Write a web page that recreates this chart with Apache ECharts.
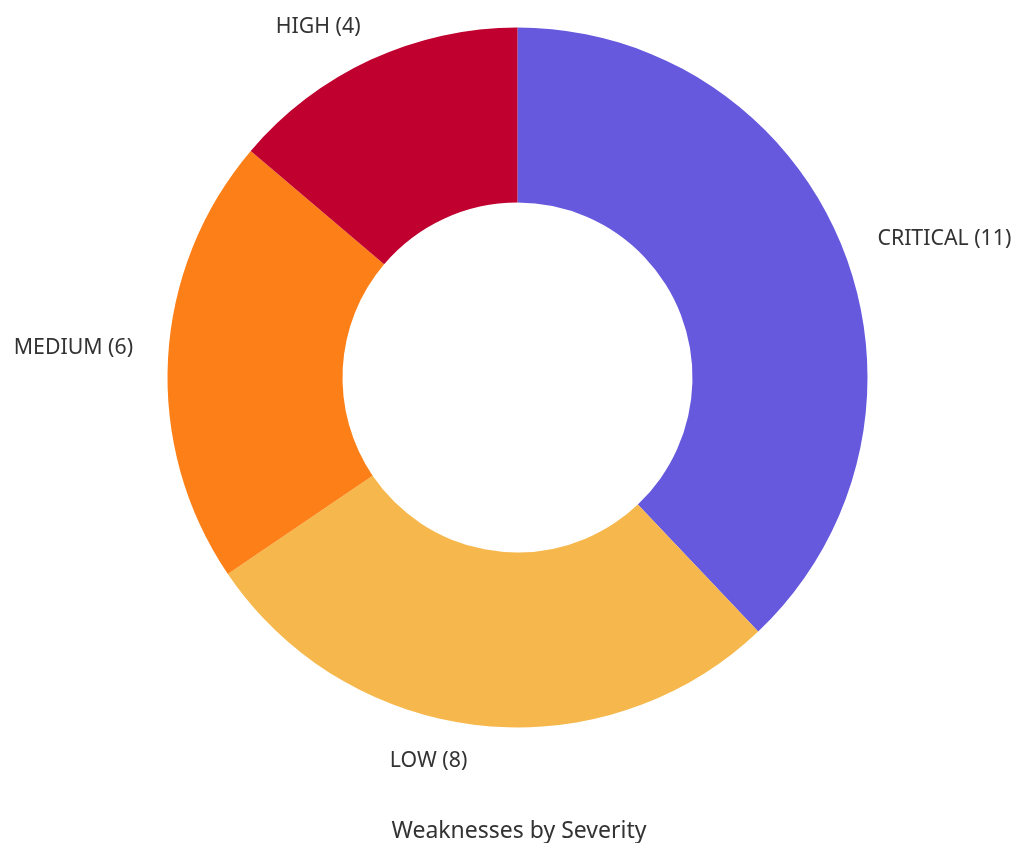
<!DOCTYPE html>
<html>
<head>
<meta charset="utf-8">
<script src="https://cdn.jsdelivr.net/npm/echarts@6/dist/echarts.min.js"></script>
<style>
  html, body { margin: 0; padding: 0; background: #fff; }
  #chart { width: 1011px; height: 843px; }
</style>
</head>
<body>
<div id="chart"></div>
<script>
const severities = ['CRITICAL', 'LOW', 'MEDIUM', 'HIGH'];
const counts = [11, 8, 6, 4];
const colors = ['#6659dd', '#f6b84d', '#fc8017', '#c0002f'];

// small nudges so the outside labels sit where the original renderer put them
const labelNudge = [[1, 2], [-4, 5], [1, -9], [8, -5]];

const chart = echarts.init(document.getElementById('chart'));

const option = {
  animation: false,
  title: {
    text: 'Weaknesses by Severity',
    left: 514,
    textAlign: 'center',
    top: 815,
    textStyle: {
      fontFamily: 'Noto Sans',
      fontSize: 23,
      fontWeight: 'normal',
      color: '#333'
    }
  },
  series: [
    {
      type: 'pie',
      center: [517.5, 377.5],
      radius: [175, 350],
      startAngle: 90,
      clockwise: true,
      avoidLabelOverlap: false,
      data: severities.map((s, i) => ({
        name: s,
        value: counts[i],
        itemStyle: { color: colors[i] }
      })),
      label: {
        show: true,
        position: 'outside',
        formatter: p => `${p.name} (${p.value})`,
        fontFamily: 'Noto Sans',
        fontSize: 21.3,
        color: '#333',
        distanceToLabelLine: 5
      },
      labelLine: { show: false, length: 31, length2: 0 },
      labelLayout: p => ({ dx: labelNudge[p.dataIndex][0], dy: labelNudge[p.dataIndex][1] }),
      emphasis: { disabled: true }
    }
  ]
};

chart.setOption(option);
</script>
</body>
</html>
